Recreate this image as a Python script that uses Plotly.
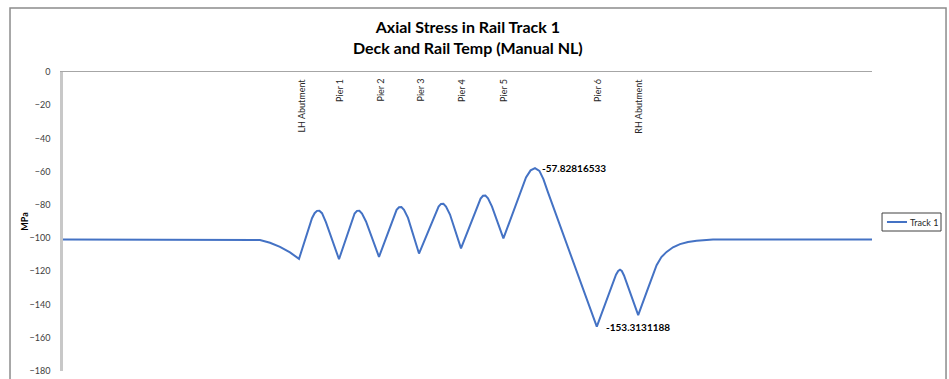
import plotly.graph_objects as go

# Chainage along the bridge (m) and axial rail stress (MPa) for track 1
chainage = [0, 40, 92, 98.5, 103.5, 108.5, 113.5, 118,
            124.5, 125.8, 127, 128.2, 129.5, 131.5, 138,
            144.5, 145.8, 147, 148.2, 149.5, 151.5, 158,
            165.5, 166.8, 168, 169.2, 170.5, 172.5, 178,
            186.5, 187.8, 189, 190.2, 191.5, 193.5, 199,
            207.5, 208.8, 210, 211.2, 212.5, 214.5, 220.2,
            229, 231.5, 233.8, 236, 238.2, 240.2, 242.5, 266.9,
            276.5, 277.6, 278.5, 279.4, 280.5, 287.6,
            291.9, 296.8, 299.2, 301.8, 305, 308.5, 312.5, 316.8, 325, 343.5, 404.5]
stress = [-100.8, -100.8, -100.8, -101.2, -102.8, -105.3, -108.6, -112.5,
          -88.0, -85.0, -83.6, -83.5, -85.0, -90.5, -112.7,
          -89.0, -85.2, -83.6, -83.5, -85.2, -90.0, -111.3,
          -87.0, -83.0, -81.4, -81.3, -83.0, -87.8, -109.3,
          -85.0, -81.0, -79.4, -79.3, -81.0, -85.8, -106.2,
          -80.0, -76.2, -74.5, -74.4, -76.0, -81.0, -100.2,
          -71.5, -63.5, -59.2, -57.82816533, -59.5, -64.5, -72.5, -153.3131188,
          -122.0, -119.8, -119.0, -119.8, -122.5, -146.4,
          -132.2, -116.3, -111.4, -108.3, -105.5, -103.6, -102.3, -101.6, -100.9, -100.8, -100.8]

# Support locations
support_names = ["LH Abutment", "Pier 1", "Pier 2", "Pier 3", "Pier 4",
                 "Pier 5", "Pier 6", "RH Abutment"]
support_chainage = [118.8, 138.2, 158.5, 178.5, 199.3, 220.2, 267.2, 287.6]

series_name = "Track 1"
line_color = "#4472C4"

max_stress = max(stress)
min_stress = min(stress)
x_at_max = chainage[stress.index(max_stress)]
x_at_min = chainage[stress.index(min_stress)]

font_family = "Lato, 'Open Sans', sans-serif"

fig = go.Figure()
fig.add_trace(go.Scatter(
    x=chainage, y=stress, mode="lines", name=series_name,
    line=dict(color=line_color, width=2), showlegend=False,
))

# Support labels hanging below the axis line at the top
for name, xc in zip(support_names, support_chainage):
    fig.add_annotation(
        x=xc, y=1, xref="x", yref="paper", text=name, showarrow=False,
        textangle=-90, xanchor="center", yanchor="top", yshift=-5,
        font=dict(family=font_family, size=9, color="#262626"),
    )

# Extreme value labels
fig.add_annotation(
    x=x_at_max, y=max_stress, text=f"{max_stress:.8f}", showarrow=False,
    xanchor="left", yanchor="middle", xshift=5,
    font=dict(family=font_family, size=10, color="#000000", weight="bold"),
)
fig.add_annotation(
    x=x_at_min, y=min_stress, text=f"{min_stress:.7f}", showarrow=False,
    xanchor="left", yanchor="middle", xshift=7,
    font=dict(family=font_family, size=10, color="#000000", weight="bold"),
)

# Title
fig.add_annotation(
    x=0.5, y=1.19, xref="paper", yref="paper", showarrow=False,
    xanchor="center", yanchor="top",
    text="Axial Stress in Rail Track 1<br>Deck and Rail Temp (Manual NL)",
    font=dict(family=font_family, size=16, color="#000000", weight="bold"),
)

# Outer chart frame
fig.add_shape(type="rect", xref="paper", yref="paper",
              x0=-0.0655, x1=1.0915, y0=-0.2, y1=1.214,
              line=dict(color="#8c8c8c", width=1.5), layer="below")

# Compact legend box to the right of the plot
fig.add_shape(type="rect", xref="paper", yref="paper",
              x0=1.0124, x1=1.0853, y0=0.4682, y1=0.5284,
              line=dict(color="#404040", width=1), fillcolor="white")
fig.add_shape(type="line", xref="paper", yref="paper",
              x0=1.0185, x1=1.0433, y0=0.4983, y1=0.4983,
              line=dict(color=line_color, width=2))
fig.add_annotation(
    x=1.0445, y=0.4983, xref="paper", yref="paper", text=series_name,
    showarrow=False, xanchor="left", yanchor="middle",
    font=dict(family=font_family, size=9, color="#262626"),
)

fig.update_layout(
    width=949, height=379,
    margin=dict(l=63, r=77, t=72, b=8, autoexpand=False),
    paper_bgcolor="white", plot_bgcolor="white",
    font=dict(family=font_family, size=9, color="#404040"),
    showlegend=False,
    xaxis=dict(
        range=[0, 404.5], showticklabels=False, ticks="", showgrid=False,
        zeroline=False, showline=True, linecolor="#a6a6a6", linewidth=1,
        side="top", mirror=False,
    ),
    yaxis=dict(
        range=[-180, 0], tickvals=list(range(-180, 1, 20)), showgrid=False,
        zeroline=False, showline=True, linecolor="#c8c8c8", linewidth=2.5,
        ticks="", ticklabelstandoff=8,
        tickfont=dict(family=font_family, size=9, color="#404040"),
        title=dict(text="<b>MPa</b>", standoff=0,
                   font=dict(family=font_family, size=9, color="#000000")),
    ),
)

fig.write_html("out.html")
